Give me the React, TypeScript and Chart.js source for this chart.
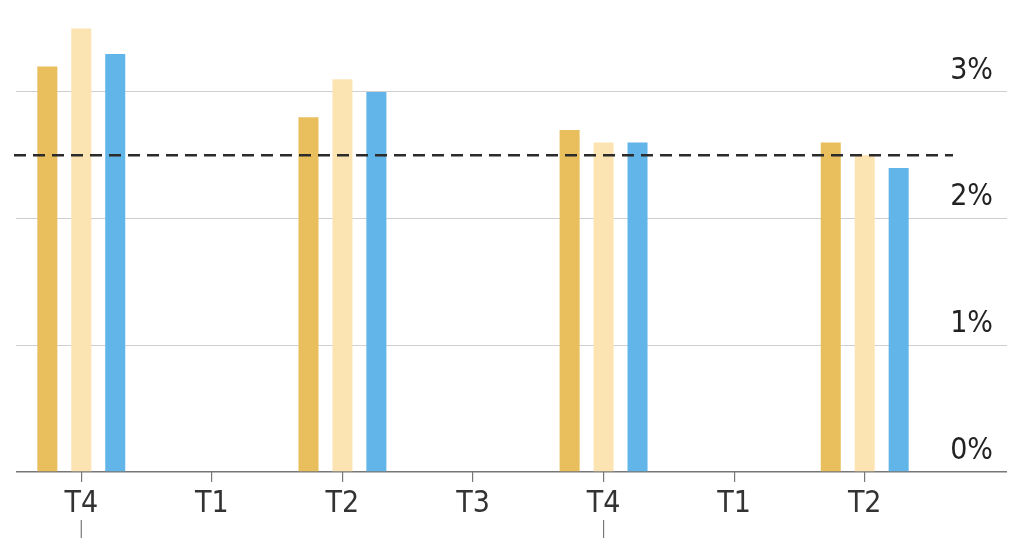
import React, { useRef, useEffect } from 'react';
import { Chart, registerables } from 'chart.js';

Chart.register(...registerables);

const quarters = ['T4', 'T1', 'T2', 'T3', 'T4', 'T1', 'T2'];
const seriesGold = [3.2, null, 2.8, null, 2.7, null, 2.6];
const seriesCream = [3.5, null, 3.1, null, 2.6, null, 2.5];
const seriesBlue = [3.3, null, 3.0, null, 2.6, null, 2.4];
const averageLevel = 2.5;
const yTicks = [0, 1, 2, 3];

const FONT = '"Liberation Sans Narrow", "DejaVu Sans Condensed", "Roboto", sans-serif';

// dashed reference line + the extra year marks under each T4
const extrasPlugin = {
    id: 'extras',
    afterDatasetsDraw(chart: any) {
        const { ctx, chartArea, scales } = chart;
        const y = scales.y.getPixelForValue(averageLevel);
        ctx.save();
        ctx.strokeStyle = '#2b2b2b';
        ctx.lineWidth = 2.5;
        ctx.setLineDash([12, 7]);
        ctx.beginPath();
        ctx.moveTo(chartArea.left - 2, y);
        ctx.lineTo(chartArea.right + 23, y);
        ctx.stroke();
        ctx.setLineDash([]);
        ctx.strokeStyle = '#777';
        ctx.lineWidth = 1.2;
        quarters.forEach((q, i) => {
            if (q !== 'T4') return;
            const x = scales.x.getPixelForValue(i);
            ctx.beginPath();
            ctx.moveTo(x, chartArea.bottom + 48);
            ctx.lineTo(x, chartArea.bottom + 66);
            ctx.stroke();
        });
        ctx.restore();
    },
};

const App = () => {
    const chartRef = useRef<HTMLCanvasElement>(null);
    const chartInstanceRef = useRef<Chart | null>(null);

    useEffect(() => {
        document.body.style.margin = '0';
        const ctx = chartRef.current?.getContext('2d');
        if (!ctx) return;
        if (chartInstanceRef.current) chartInstanceRef.current.destroy();

        chartInstanceRef.current = new Chart(ctx, {
            type: 'bar',
            data: {
                labels: quarters,
                datasets: [
                    { label: 'A', data: seriesGold, backgroundColor: '#E8BF5C' },
                    { label: 'B', data: seriesCream, backgroundColor: '#FCE4B2' },
                    { label: 'C', data: seriesBlue, backgroundColor: '#62B5E8' },
                ],
            },
            options: {
                animation: false,
                responsive: false,
                maintainAspectRatio: false,
                datasets: {
                    bar: {
                        categoryPercentage: 0.78,
                        barPercentage: 0.59,
                    },
                },
                layout: {
                    padding: { left: 16, right: 31, top: 11, bottom: 0 },
                },
                scales: {
                    x: {
                        grid: {
                            offset: false,
                            drawOnChartArea: false,
                            tickLength: 10,
                            color: '#777',
                            lineWidth: 1.2,
                        },
                        border: { display: false },
                        ticks: {
                            color: '#333',
                            padding: 4,
                            font: { family: FONT, size: 30 },
                            maxRotation: 0,
                            autoSkip: false,
                        },
                        afterFit: (scale: any) => {
                            scale.height = 66;
                        },
                    },
                    y: {
                        position: 'right',
                        min: 0,
                        max: 3.56,
                        afterBuildTicks: (scale: any) => {
                            scale.ticks = yTicks.map((v) => ({ value: v }));
                        },
                        grid: {
                            color: (c: any) => (c.tick && c.tick.value === 0 ? '#777' : '#cfcfcf'),
                            lineWidth: (c: any) => (c.tick && c.tick.value === 0 ? 1.5 : 1),
                            tickLength: 77,
                        },
                        border: { display: false },
                        ticks: {
                            crossAlign: 'far',
                            labelOffset: -21,
                            color: '#222',
                            font: { family: FONT, size: 30 },
                            callback: (v: any) => `${v}%`,
                        },
                        afterFit: (scale: any) => {
                            scale.width = 63;
                        },
                    },
                },
                plugins: {
                    legend: { display: false },
                    tooltip: { enabled: false },
                },
            },
            plugins: [extrasPlugin],
        });

        return () => {
            if (chartInstanceRef.current) {
                chartInstanceRef.current.destroy();
                chartInstanceRef.current = null;
            }
        };
    }, []);

    return (
        <div style={{ width: 1024, height: 538, background: '#fff' }}>
            <canvas ref={chartRef} width={1024} height={538} style={{ display: 'block' }}></canvas>
        </div>
    );
};

export default App;
